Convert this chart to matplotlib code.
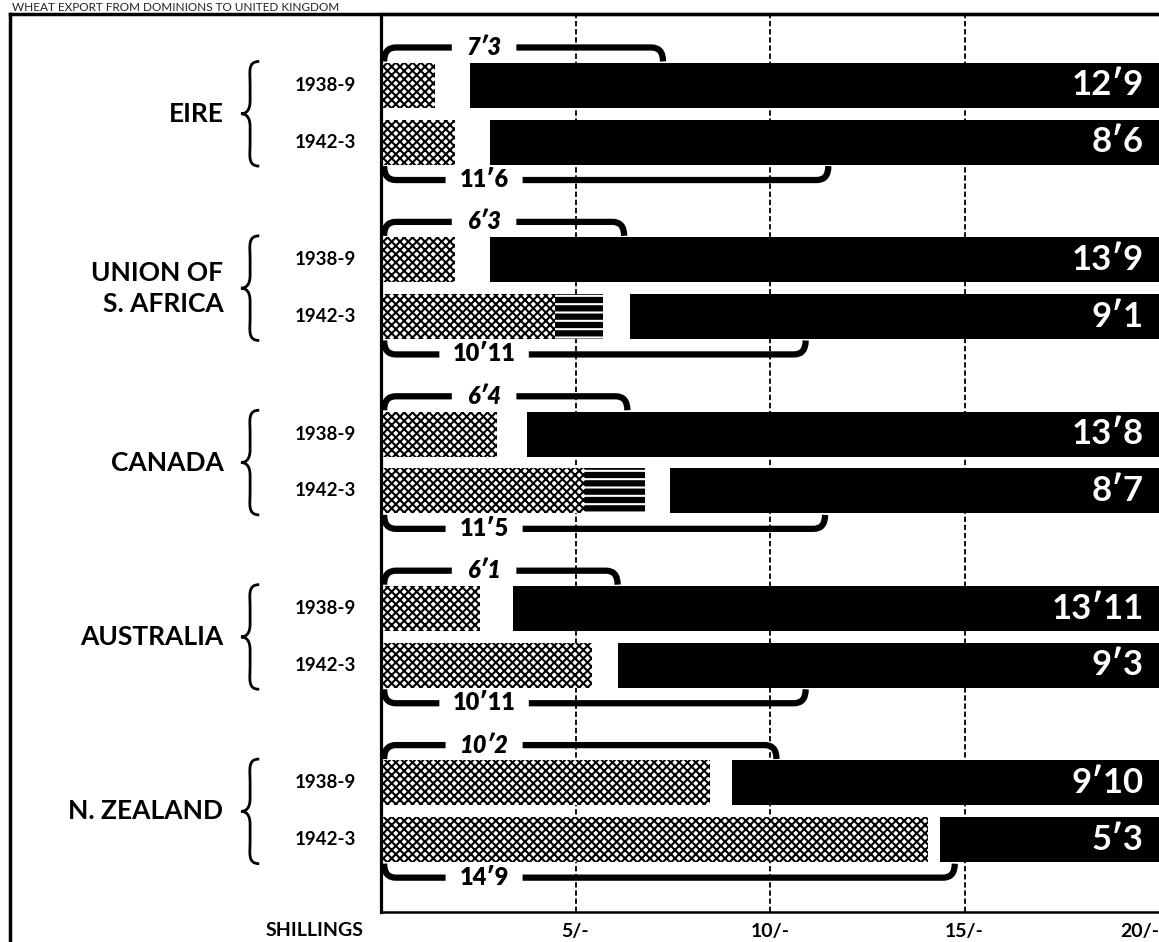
import matplotlib.pyplot as plt
from matplotlib.path import Path
from matplotlib.patches import PathPatch
from matplotlib.lines import Line2D

plt.rcParams['font.family'] = ['Lato', 'DejaVu Sans']
plt.rcParams['hatch.linewidth'] = 1.5

countries = ['EIRE', 'UNION OF\nS. AFRICA', 'CANADA', 'AUSTRALIA', 'N. ZEALAND']
years = ['1938-9', '1942-3']

# segment lengths in shillings, [country][year]
hatched = [[1.39, 1.90], [1.90, 4.47], [2.98, 5.24], [2.54, 5.42], [8.46, 14.06]]
lined = [[0, 0], [0, 1.24], [0, 1.55], [0, 0], [0, 0]]
white_gap = [[0.90, 0.90], [0.90, 0.69], [0.77, 0.64], [0.85, 0.67], [0.56, 0.31]]
black_labels = [['12′9', '8′6'], ['13′9', '9′1'], ['13′8', '8′7'], ['13′11', '9′3'], ['9′10', '5′3']]
top_labels = ['7′3', '6′3', '6′4', '6′1', '10′2']
bottom_labels = ['11′6', '10′11', '11′5', '10′11', '14′9']
total = 20  # shillings in the pound

ticks = [5, 10, 15, 20]
tick_labels = ['5/-', '10/-', '15/-', '20/-']


def shillings(s):
    a, b = s.split('′')
    return int(a) + int(b) / 12


def bracket(ax, x1, yline, dy, label, italic):
    # thick bar with rounded ends, broken where the label sits
    rx = 0.3
    xc = 2.65
    half = 0.35 + 0.16 * len(label)
    gap0, gap1 = xc - half, xc + half
    left = Path([(0.08, yline + dy), (0.08, yline), (0.08 + rx, yline), (gap0, yline)],
                [Path.MOVETO, Path.CURVE3, Path.CURVE3, Path.LINETO])
    right = Path([(gap1, yline), (x1 - rx, yline), (x1, yline), (x1, yline + dy)],
                 [Path.MOVETO, Path.LINETO, Path.CURVE3, Path.CURVE3])
    for p in (left, right):
        ax.add_patch(PathPatch(p, fc='none', ec='black', lw=4.5, capstyle='butt',
                               clip_on=False, zorder=4))
    ax.text(xc, yline, label, fontsize=17, fontweight='heavy',
            style='italic' if italic else 'normal', ha='center', va='center', zorder=5)


def brace(ax, xt, xr, yc, h):
    pts = [(1, -1), (0.35, -1), (0.5, -0.8), (0.5, -0.55),
           (0.5, -0.25),
           (0.5, -0.05), (0.25, 0), (0, 0),
           (0.25, 0), (0.5, 0.05), (0.5, 0.25),
           (0.5, 0.55),
           (0.5, 0.8), (0.35, 1), (1, 1)]
    codes = [Path.MOVETO] + [Path.CURVE4] * 3 + [Path.LINETO] + [Path.CURVE4] * 6 + \
            [Path.LINETO] + [Path.CURVE4] * 3
    verts = [(xt + u * (xr - xt), yc + v * h) for u, v in pts]
    ax.add_patch(PathPatch(Path(verts, codes), fc='none', ec='black', lw=2.0,
                           clip_on=False))


fig = plt.figure(figsize=(11.59, 9.42), dpi=100)
ax = fig.add_axes([381 / 1159, 1 - 912 / 942, 1 - 381 / 1159, (912 - 14) / 942])
ax.set_xlim(0, total)
ax.set_ylim(4.577, -0.572)

offsets = [-0.163, 0.163]
bh = 0.258
for i, c in enumerate(countries):
    for j, yr in enumerate(years):
        y = i + offsets[j]
        h, l, w = hatched[i][j], lined[i][j], white_gap[i][j]
        ax.barh(y, h, left=0, height=bh, color='white', edgecolor='black',
                hatch='xxxx', linewidth=0, zorder=2)
        if l > 0:
            ax.barh(y, l, left=h, height=bh, color='black', edgecolor='white',
                    hatch='--', linewidth=0, zorder=2)
        ax.barh(y, w, left=h + l, height=bh, color='white', linewidth=0, zorder=2)
        start = h + l + w
        ax.barh(y, total - start, left=start, height=bh, color='black',
                linewidth=0, zorder=2)
        ax.text(19.6, y, black_labels[i][j], color='white', fontsize=25,
                fontweight='bold', ha='right', va='center', zorder=5)
        ax.text(-1.44, y, yr, fontsize=13.5, fontweight='bold', ha='center',
                va='center')

    bracket(ax, shillings(top_labels[i]), i - 0.38, 0.08, top_labels[i], True)
    bracket(ax, shillings(bottom_labels[i]), i + 0.38, -0.08, bottom_labels[i], False)

    ax.text(-4.05, i, c, fontsize=19, fontweight='bold', ha='right', va='center',
            ma='right', linespacing=1.35)
    brace(ax, -3.6, -3.13, i, 0.3)

for t in ticks[:-1]:
    ax.axvline(t, color='black', lw=1.3, ls=(0, (3, 1.5)), zorder=1)

ax.set_xticks(ticks)
ax.set_xticklabels(tick_labels, fontsize=14, fontweight='bold')
ax.get_xticklabels()[-1].set_ha('right')
ax.tick_params(axis='x', length=0, pad=8)
ax.set_yticks([])
ax.text(-1.7, -0.021, 'SHILLINGS', transform=ax.get_xaxis_transform(),
        fontsize=14, fontweight='bold', ha='center', va='center')

ax.spines['right'].set_visible(False)
ax.spines['left'].set_linewidth(2.3)
ax.spines['top'].set_linewidth(2.3)
ax.spines['bottom'].set_linewidth(1.8)

# outer frame of the page
fig.add_artist(Line2D([10 / 1159, 1], [1 - 14 / 942] * 2, color='black', lw=2.5))
fig.add_artist(Line2D([10 / 1159] * 2, [0, 1 - 14 / 942], color='black', lw=2.5))
fig.text(12 / 1159, 1 - 11 / 942, 'WHEAT EXPORT FROM DOMINIONS TO UNITED KINGDOM',
         fontsize=8.5, ha='left', va='baseline', color='#222222')

fig.savefig('out.png', dpi=100)
